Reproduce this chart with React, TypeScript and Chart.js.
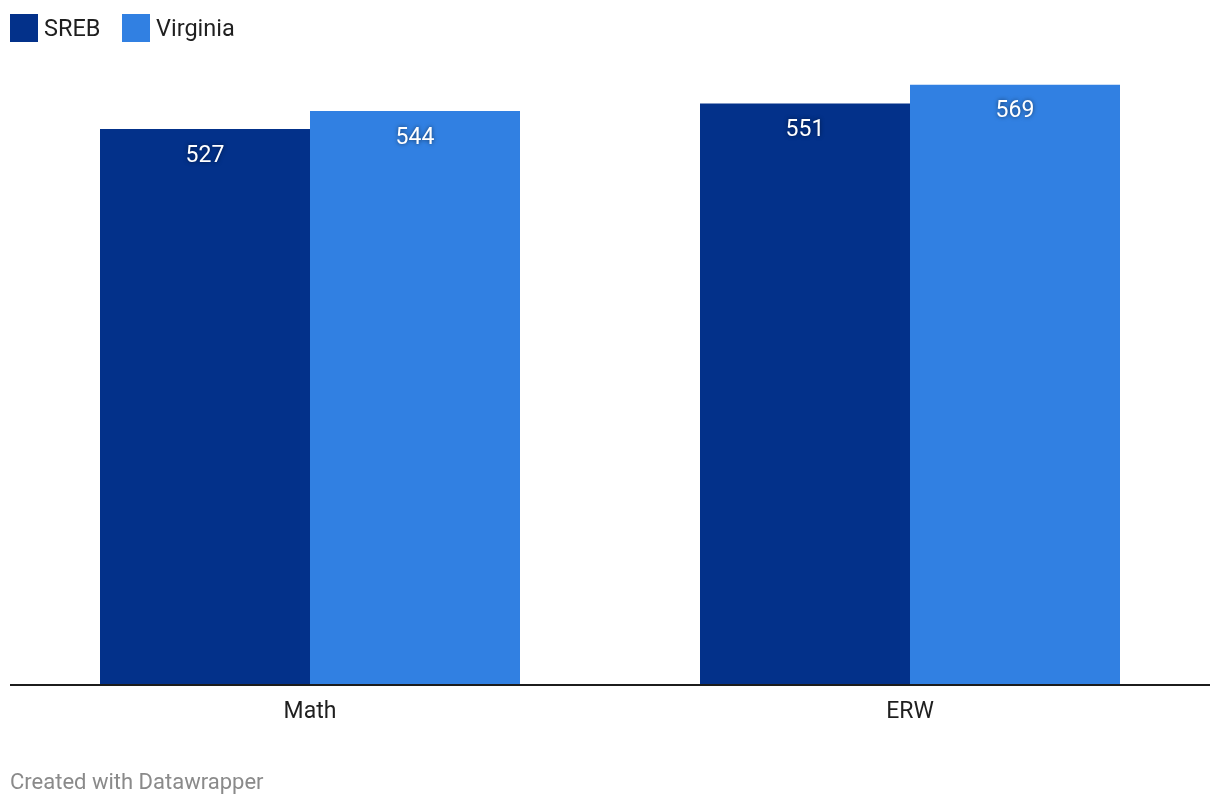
import React, { useEffect, useRef } from "react";
import { Chart, registerables } from "chart.js";

Chart.register(...registerables);

const categories = ["Math", "ERW"];
const seriesNames = ["SREB", "Virginia"];
const srebValues = [527, 551];
const virginiaValues = [544, 569];
const seriesColors = ["#03318A", "#3180E2"];

const FONT = "Roboto, 'Noto Sans', sans-serif";

const labelPlugin = {
  id: "dwLabels",
  afterDatasetsDraw(chart: any) {
    const ctx = chart.ctx;
    const area = chart.chartArea;
    ctx.save();
    // value labels
    chart.data.datasets.forEach((ds: any, di: number) => {
      const meta = chart.getDatasetMeta(di);
      meta.data.forEach((bar: any, i: number) => {
        ctx.save();
        ctx.font = `23px ${FONT}`;
        ctx.fillStyle = "#ffffff";
        ctx.textAlign = "center";
        ctx.textBaseline = "middle";
        ctx.shadowColor = "rgba(0,0,0,0.55)";
        ctx.shadowBlur = 4;
        ctx.fillText(String(ds.data[i]), bar.x, bar.y + 27);
        ctx.restore();
      });
    });
    // baseline
    ctx.beginPath();
    ctx.strokeStyle = "#1c1c1c";
    ctx.lineWidth = 2;
    ctx.moveTo(area.left, area.bottom + 1);
    ctx.lineTo(area.right, area.bottom + 1);
    ctx.stroke();
    // category labels
    const xs = chart.scales.x;
    ctx.font = `23px ${FONT}`;
    ctx.fillStyle = "#1f1f1f";
    ctx.textAlign = "center";
    ctx.textBaseline = "middle";
    categories.forEach((c, i) => {
      ctx.fillText(c, xs.getPixelForValue(i), area.bottom + 28);
    });
    ctx.restore();
  },
};

export default function App() {
  const ref = useRef<HTMLCanvasElement>(null);
  useEffect(() => {
    if (!ref.current) return;
    const chart = new Chart(ref.current, {
      type: "bar",
      data: {
        labels: categories,
        datasets: [
          { label: seriesNames[0], data: srebValues, backgroundColor: seriesColors[0], borderWidth: 0 },
          { label: seriesNames[1], data: virginiaValues, backgroundColor: seriesColors[1], borderWidth: 0 },
        ],
      },
      options: {
        animation: false,
        responsive: false,
        maintainAspectRatio: false,
        devicePixelRatio: 1,
        datasets: { bar: { categoryPercentage: 0.7, barPercentage: 1.0 } },
        layout: { padding: { left: 10, right: 10, top: 52, bottom: 122 } },
        plugins: { legend: { display: false }, tooltip: { enabled: false } },
        scales: {
          x: { display: false },
          y: { display: false, min: 0, max: 600 },
        },
      },
      plugins: [labelPlugin],
    });
    return () => chart.destroy();
  }, []);

  const legendItem = (name: string, color: string, left: number) => (
    <div key={name} style={{ position: "absolute", left, top: 14, height: 28, display: "flex", alignItems: "center" }}>
      <div style={{ width: 28, height: 28, background: color }} />
      <span style={{ marginLeft: 6, fontFamily: FONT, fontSize: 23.5, color: "#1f1f1f", lineHeight: "28px" }}>{name}</span>
    </div>
  );

  return (
    <div style={{ position: "absolute", left: 0, top: 0, width: 1220, height: 806, background: "#fff" }}>
      <canvas ref={ref} width={1220} height={806} style={{ position: "absolute", left: 0, top: 0 }} />
      {legendItem(seriesNames[0], seriesColors[0], 10)}
      {legendItem(seriesNames[1], seriesColors[1], 122)}
      <div style={{ position: "absolute", left: 10, top: 768, fontFamily: FONT, fontSize: 22, color: "#8a8a8a", lineHeight: "28px" }}>
        Created with Datawrapper
      </div>
    </div>
  );
}
